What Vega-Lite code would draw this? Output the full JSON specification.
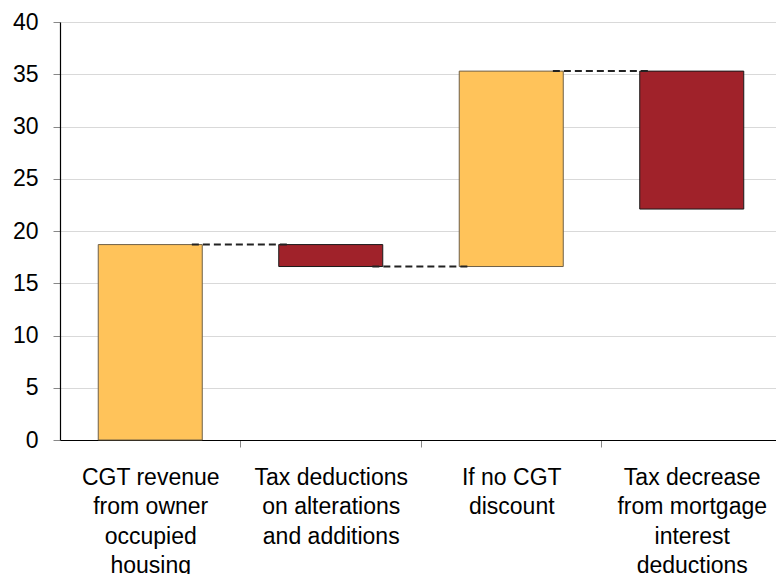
{
  "$schema": "https://vega.github.io/schema/vega-lite/v6.json",
  "width": 722,
  "height": 418,
  "autosize": {"type": "none"},
  "padding": {"left": 60, "top": 22, "right": 0, "bottom": 134},
  "background": "white",
  "config": {
    "view": {"stroke": null},
    "font": "Liberation Sans"
  },
  "datasets": {
    "bars": [
      {"category": "CGT revenue|from owner|occupied|housing", "start": 0, "end": 18.7, "kind": "increase"},
      {"category": "Tax deductions|on alterations|and additions", "start": 18.7, "end": 16.6, "kind": "decrease"},
      {"category": "If no CGT|discount", "start": 16.6, "end": 35.3, "kind": "increase"},
      {"category": "Tax decrease|from mortgage|interest|deductions", "start": 35.3, "end": 22.1, "kind": "decrease"}
    ],
    "links": [
      {"from": "CGT revenue|from owner|occupied|housing", "to": "Tax deductions|on alterations|and additions", "level": 18.7},
      {"from": "Tax deductions|on alterations|and additions", "to": "If no CGT|discount", "level": 16.6},
      {"from": "If no CGT|discount", "to": "Tax decrease|from mortgage|interest|deductions", "level": 35.3}
    ]
  },
  "layer": [
    {
      "data": {"name": "bars"},
      "mark": {"type": "bar", "strokeWidth": 1},
      "encoding": {
        "x": {
          "field": "category",
          "type": "nominal",
          "scale": {
            "domain": [
              "CGT revenue|from owner|occupied|housing",
              "Tax deductions|on alterations|and additions",
              "If no CGT|discount",
              "Tax decrease|from mortgage|interest|deductions"
            ],
            "paddingInner": 0.4238,
            "paddingOuter": 0.2119
          },
          "axis": {
            "title": null,
            "labelAngle": 0,
            "labelExpr": "split(datum.label, '|')",
            "labelFontSize": 23,
            "labelLineHeight": 29.5,
            "labelColor": "#000000",
            "labelPadding": 19,
            "labelLimit": 250,
            "bandPosition": 1,
            "tickOffset": 38,
            "labelOffset": -38,
            "tickColor": "#888888",
            "tickSize": 7,
            "domainColor": "#000000",
            "domainWidth": 1.2
          }
        },
        "y": {
          "field": "start",
          "type": "quantitative",
          "scale": {"domain": [0, 40], "nice": false},
          "axis": {
            "title": null,
            "values": [0, 5, 10, 15, 20, 25, 30, 35, 40],
            "labelFontSize": 23,
            "labelColor": "#000000",
            "labelPadding": 15,
            "tickColor": "#888888",
            "tickSize": 7,
            "domainColor": "#000000",
            "domainWidth": 1.2,
            "gridColor": "#d9d9d9",
            "gridWidth": 1
          }
        },
        "y2": {"field": "end"},
        "color": {
          "field": "kind",
          "type": "nominal",
          "scale": {"domain": ["increase", "decrease"], "range": ["#FFC35A", "#A0222A"]},
          "legend": null
        },
        "stroke": {
          "field": "kind",
          "type": "nominal",
          "scale": {"domain": ["increase", "decrease"], "range": ["#6f6048", "#1a1a1a"]},
          "legend": null
        }
      }
    },
    {
      "data": {"name": "links"},
      "mark": {"type": "rule", "color": "#222222", "strokeWidth": 2, "strokeDash": [7, 4]},
      "encoding": {
        "x": {"field": "from", "type": "nominal", "bandPosition": 0.9},
        "x2": {"field": "to", "bandPosition": 0.1},
        "y": {"field": "level", "type": "quantitative"}
      }
    }
  ]
}
